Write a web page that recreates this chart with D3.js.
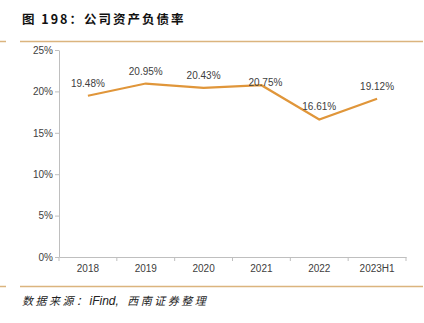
<!DOCTYPE html>
<html><head><meta charset="utf-8">
<script src="https://cdn.jsdelivr.net/npm/d3@7"></script>
<style>
body{margin:0;background:#fff;}
svg{display:block;font-family:"Liberation Sans",Arial,sans-serif;}
</style></head>
<body>
<svg id="c" width="424" height="323"></svg>
<script>
const categories = ["2018","2019","2020","2021","2022","2023H1"];
const values = [19.48, 20.95, 20.43, 20.75, 16.61, 19.12];
const yTicks = [0,5,10,15,20,25];
const title = "图 198：公司资产负债率";
const sourceParts = ["数据来源：", "iFind, ", "西南证券整理"];

const svg = d3.select("#c");
const rule = "#dbb47e";
// header
svg.append("line").attr("x1",0).attr("x2",6).attr("y1",41.5).attr("y2",41.5).attr("stroke",rule).attr("stroke-width",1.5);
svg.append("line").attr("x1",20).attr("x2",423).attr("y1",41.5).attr("y2",41.5).attr("stroke",rule).attr("stroke-width",1.5);
svg.append("text").attr("x",22).attr("y",24).attr("font-family","'Noto Sans CJK SC',sans-serif").attr("font-weight","bold").attr("font-size",12.5).attr("letter-spacing",2).attr("fill","#111").text(title);
// footer
svg.append("line").attr("x1",0).attr("x2",6).attr("y1",286.5).attr("y2",286.5).attr("stroke",rule).attr("stroke-width",1.5);
svg.append("line").attr("x1",20).attr("x2",423).attr("y1",286.5).attr("y2",286.5).attr("stroke",rule).attr("stroke-width",1.5);
const src = svg.append("text").attr("x",22).attr("y",305).attr("font-style","italic").attr("font-size",11).attr("fill","#222");
src.append("tspan").attr("font-family","'Noto Sans CJK SC',sans-serif").attr("letter-spacing",2.5).text(sourceParts[0]);
src.append("tspan").attr("font-family","'Liberation Sans',Arial,sans-serif").attr("font-size",12).attr("xml:space","preserve").text(sourceParts[1]);
src.append("tspan").attr("dx",5).attr("font-family","'Noto Sans CJK SC',sans-serif").attr("letter-spacing",2.5).text(sourceParts[2]);

const x = d3.scaleBand().domain(categories).range([59,406]);
const y = d3.scaleLinear().domain([0,25]).range([257,50]);

const ya = svg.append("g").attr("transform","translate(59,0)")
  .call(d3.axisLeft(y).tickValues(yTicks).tickFormat(d=>d+"%").tickSize(4).tickSizeOuter(0));
ya.select(".domain").attr("stroke","#bfbfbf");
ya.selectAll(".tick line").attr("stroke","#bfbfbf");
ya.selectAll(".tick text").attr("font-size",10).attr("fill","#404040").attr("font-family","'Liberation Sans',Arial,sans-serif").attr("x",-6);

const xa = svg.append("g").attr("transform","translate(0,257)")
  .call(d3.axisBottom(x).tickSize(0).tickSizeOuter(0));
xa.select(".domain").attr("stroke","#bfbfbf");
xa.selectAll(".tick text").attr("font-size",10).attr("fill","#404040").attr("font-family","'Liberation Sans',Arial,sans-serif").attr("dy","1.2em");
const bounds = categories.map(c=>x(c)).concat([x.range()[1]]);
svg.append("g").selectAll("line").data(bounds).join("line")
  .attr("x1",d=>d).attr("x2",d=>d).attr("y1",257).attr("y2",261).attr("stroke","#bfbfbf");

const cx = c => x(c)+x.bandwidth()/2;
const line = d3.line().x((d,i)=>cx(categories[i])).y(d=>y(d));
svg.append("path").datum(values).attr("d",line).attr("fill","none").attr("stroke","#e0963a").attr("stroke-width",2.2).attr("stroke-linejoin","miter");

const adj = {"2021":[4,10]};
svg.append("g").selectAll("text").data(values).join("text")
  .attr("x",(d,i)=>cx(categories[i])+((adj[categories[i]]||[0,0])[0]))
  .attr("y",(d,i)=>y(d)-9+((adj[categories[i]]||[0,0])[1]))
  .attr("text-anchor","middle").attr("font-size",10).attr("fill","#404040")
  .text(d=>d.toFixed(2)+"%");
</script>
</body></html>
